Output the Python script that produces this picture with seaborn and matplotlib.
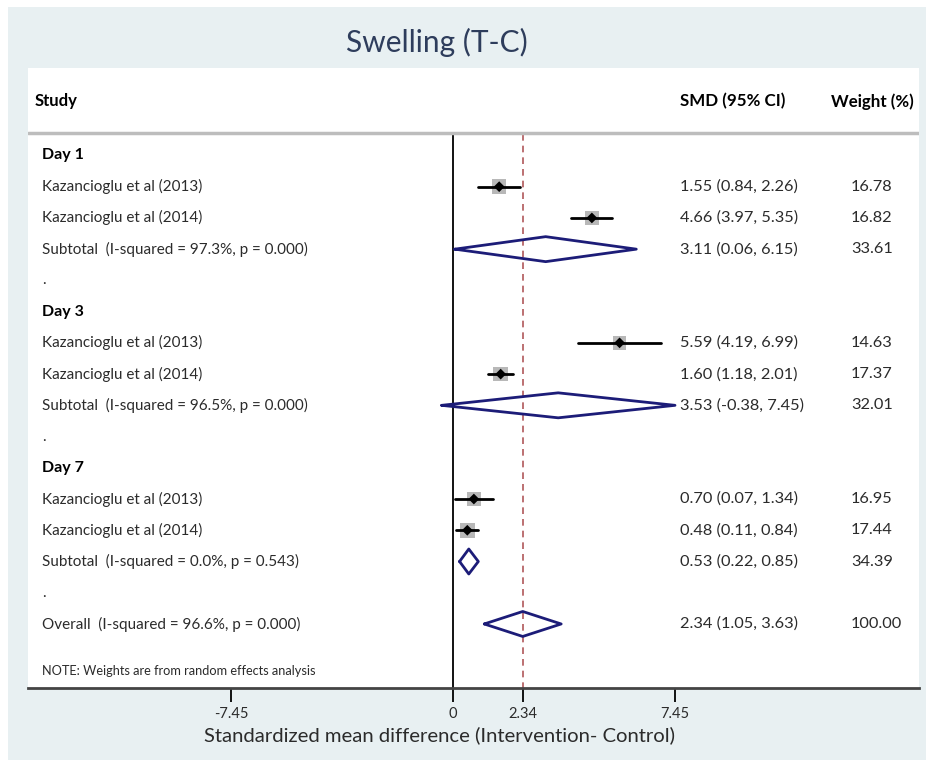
import matplotlib
matplotlib.use("Agg")
import matplotlib.pyplot as plt
from matplotlib.patches import Rectangle
import numpy as np
import pandas as pd
import seaborn as sns

# data
groups = ["Day 1", "Day 3", "Day 7"]
studies = ["Kazancioglu et al (2013)", "Kazancioglu et al (2014)"]
smd = [1.55, 4.66, 5.59, 1.60, 0.70, 0.48]
ci_lo = [0.84, 3.97, 4.19, 1.18, 0.07, 0.11]
ci_hi = [2.26, 5.35, 6.99, 2.01, 1.34, 0.84]
weight = [16.78, 16.82, 14.63, 17.37, 16.95, 17.44]
sub_smd = [3.11, 3.53, 0.53]
sub_lo = [0.06, -0.38, 0.22]
sub_hi = [6.15, 7.45, 0.85]
sub_w = [33.61, 32.01, 34.39]
sub_i2 = [97.3, 96.5, 0.0]
sub_p = ["0.000", "0.000", "0.543"]
overall = [2.34, 1.05, 3.63]
overall_i2 = 96.6
overall_p = "0.000"
xticks = [-7.45, 0, 2.34, 7.45]

sns.set_style("white")
plt.rcParams['font.family'] = ['Lato', 'DejaVu Sans']

navy = "#1c1c78"
txt = "#2b2b2b"

fig = plt.figure(figsize=(9.26, 7.6), dpi=100)
fig.patch.set_facecolor("white")
fig.patches.append(Rectangle((8 / 926, 0), 918 / 926, 753 / 760, transform=fig.transFigure,
                             facecolor="#e8f0f2", edgecolor="none", zorder=-10))

ax = fig.add_axes([28 / 926, 72 / 760, 891 / 926, 620 / 760])
ax.set_zorder(1)
ax.set_facecolor("white")

# build the rows table
rows = []
i = 0
for g in range(3):
    rows.append(dict(y=i, kind="head", label=groups[g]))
    i += 1
    for s in range(2):
        k = g * 2 + s
        rows.append(dict(y=i, kind="study", label=studies[s], est=smd[k], lo=ci_lo[k], hi=ci_hi[k], w=weight[k]))
        i += 1
    rows.append(dict(y=i, kind="sub", label=f"Subtotal  (I-squared = {sub_i2[g]:.1f}%, p = {sub_p[g]})",
                     est=sub_smd[g], lo=sub_lo[g], hi=sub_hi[g], w=sub_w[g]))
    i += 1
    rows.append(dict(y=i, kind="dot", label="."))
    i += 1
rows.append(dict(y=i, kind="sub", label=f"Overall  (I-squared = {overall_i2:.1f}%, p = {overall_p})",
                 est=overall[0], lo=overall[1], hi=overall[2], w=100.0))
df = pd.DataFrame(rows)
st = df[df.kind == "study"]

# scale: 29.8 px per unit, zero at x=453 px
px = 29.8
x0 = (28 - 453) / px
x1 = (919 - 453) / px
ax.set_xlim(x0, x1)
ax.set_ylim(17.05, -2.8)

# vertical reference lines
ax.plot([0, 0], [-0.7, 17.1], color="black", lw=1.3, zorder=1)
ax.plot([overall[0]] * 2, [-0.7, 17.1], color="#b0585a", lw=1.2, ls=(0, (4, 3)), zorder=1)

# CI lines and weight boxes
for _, r in st.iterrows():
    ax.plot([r.lo, r.hi], [r.y, r.y], color="black", lw=2, zorder=3)
sns.scatterplot(data=st, x="est", y="y", size="w", sizes=(st.w.min() * 6.5, st.w.max() * 6.5),
                marker="s", color="#b8b8b8", edgecolor="none", legend=False, ax=ax, zorder=2)
sns.scatterplot(data=st, x="est", y="y", marker="D", s=30, color="black", edgecolor="none",
                legend=False, ax=ax, zorder=4)

# diamonds
for _, r in df[df.kind == "sub"].iterrows():
    h = 0.4
    ax.plot([r.lo, r.est, r.hi, r.est, r.lo], [r.y, r.y - h, r.y, r.y + h, r.y],
            color=navy, lw=2, zorder=3)

# text columns
xs = x0 + (42 - 28) / px
xsmd = (680 - 453) / px
xw = (851 - 453) / px
fs = 11
fn = 11.8
for _, r in df.iterrows():
    if r.kind == "head":
        ax.text(xs, r.y, r.label, fontsize=11.5, fontweight="bold", color="black", va="center")
    else:
        ax.text(xs, r.y, r.label, fontsize=fs, color=txt, va="center")
    if r.kind in ("study", "sub"):
        ax.text(xsmd, r.y, f"{r.est:.2f} ({r.lo:.2f}, {r.hi:.2f})", fontsize=fn, color=txt, va="center")
        ax.text(xw, r.y, f"{r.w:.2f}", fontsize=fn, color=txt, va="center")

ax.text(x0 + 7 / px, -1.73, "Study", fontsize=12, fontweight="bold", color="black", va="center")
ax.text(xsmd, -1.73, "SMD (95% CI)", fontsize=12.2, fontweight="bold", color="black", va="center")
ax.text((831 - 453) / px, -1.73, "Weight (%)", fontsize=12.2, fontweight="bold", color="black", va="center")
ax.text(xs, 16.52, "NOTE: Weights are from random effects analysis", fontsize=9.2, color=txt, va="center")

# header separator
ax.plot([x0, x1], [-0.72, -0.72], color="#bdbdbd", lw=2.5, zorder=1)

# axes styling
for s in ["top", "left", "right"]:
    ax.spines[s].set_visible(False)
ax.spines["bottom"].set_color("#444444")
ax.spines["bottom"].set_linewidth(2)
ax.set_yticks([])
ax.set_ylabel("")
ax.set_xticks(xticks)
ax.set_xticklabels(["-7.45", "0", "2.34", "7.45"], fontsize=10.5, color=txt)
ax.tick_params(axis="x", bottom=True, direction="out", length=10, width=1.3, color="black", pad=4)
ax.set_xlabel("Standardized mean difference (Intervention- Control)", fontsize=14.6, color=txt, labelpad=4)
ax.xaxis.set_label_coords((439 - 28) / 891, -0.062)

fig.text(437 / 926, 1 - 42 / 760, "Swelling (T-C)", fontsize=21.5,
         color="#2e3d5c", ha="center", va="center")

fig.savefig("out.png", dpi=100)
